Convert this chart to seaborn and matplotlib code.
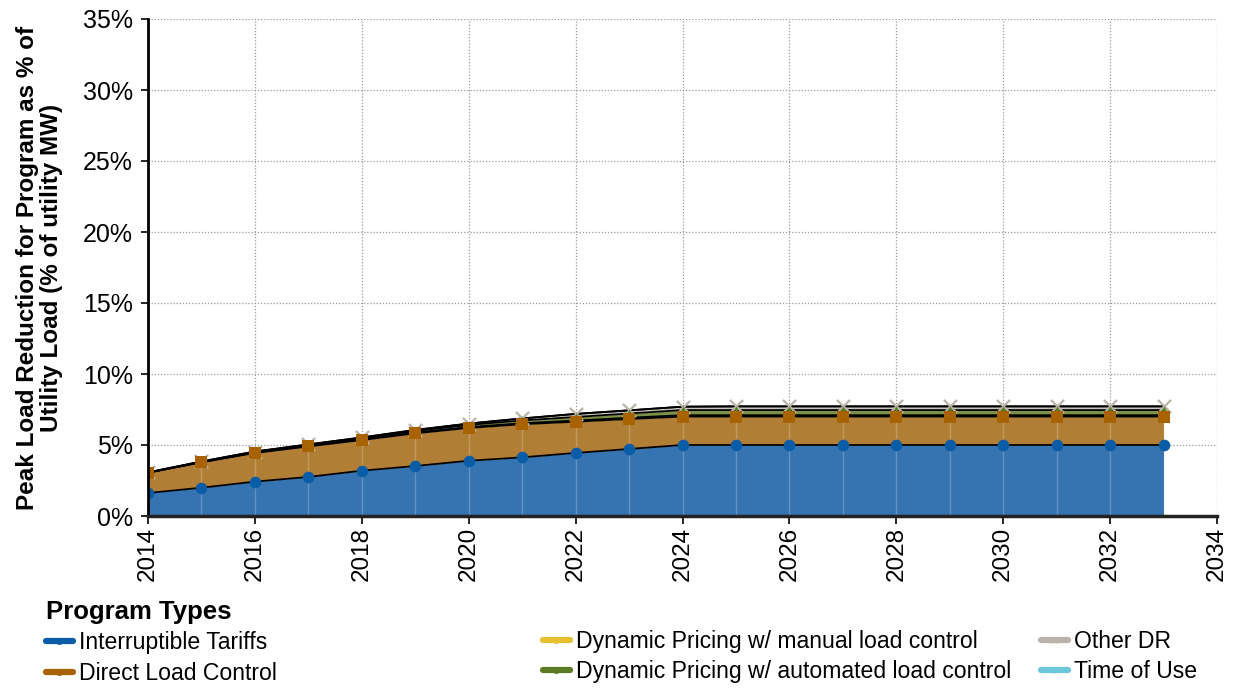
import numpy as np
import pandas as pd
import matplotlib
matplotlib.use("Agg")
import matplotlib.pyplot as plt
from matplotlib.lines import Line2D
from matplotlib.ticker import FuncFormatter, MultipleLocator
import seaborn as sns

# Peak load reduction by program type, % of utility load
years = list(range(2014, 2034))
interruptible = [1.62, 1.99, 2.42, 2.75, 3.19, 3.52, 3.89, 4.13, 4.44, 4.72,
                 5.0, 5.0, 5.0, 5.0, 5.0, 5.0, 5.0, 5.0, 5.0, 5.0]
direct_load = [1.43, 1.79, 2.02, 2.15, 2.16, 2.30, 2.31, 2.33, 2.20, 2.11,
               2.00, 2.00, 2.00, 2.00, 2.00, 2.00, 2.00, 2.00, 2.00, 2.00]
dyn_manual = [0.00, 0.01, 0.02, 0.03, 0.04, 0.05, 0.06, 0.07, 0.08, 0.09,
              0.10, 0.10, 0.10, 0.10, 0.10, 0.10, 0.10, 0.10, 0.10, 0.10]
dyn_auto = [0.00, 0.02, 0.04, 0.06, 0.08, 0.11, 0.15, 0.20, 0.25, 0.30,
            0.36, 0.36, 0.36, 0.36, 0.36, 0.36, 0.36, 0.36, 0.36, 0.36]
other_dr = [0.02, 0.03, 0.04, 0.05, 0.06, 0.08, 0.10, 0.14, 0.22, 0.22,
            0.24, 0.26, 0.26, 0.26, 0.26, 0.26, 0.26, 0.26, 0.26, 0.26]
time_of_use = [0.0] * 20

labels = ["Interruptible Tariffs", "Direct Load Control",
          "Dynamic Pricing w/ manual load control",
          "Dynamic Pricing w/ automated load control",
          "Other DR", "Time of Use"]
series = [interruptible, direct_load, dyn_manual, dyn_auto, other_dr, time_of_use]
marker_colors = ["#0B5CA6", "#A86300", "#E6C02E", "#5C7A23", "#B9B4A9", "#6CC7DC"]
fill_colors = ["#3574B0", "#B17E35", "#E9CC5A", "#7C9145", "#C9C4BA", "#8AD3E3"]
markers = ["o", "s", "^", "^", "x", "+"]
marker_sizes = [70, 80, 30, 35, 90, 60]

sns.set_theme(style="white")
plt.rcParams["font.family"] = ["Liberation Sans", "DejaVu Sans"]
plt.rcParams["text.color"] = "black"
plt.rcParams["axes.labelcolor"] = "black"
plt.rcParams["xtick.color"] = "black"
plt.rcParams["ytick.color"] = "black"

fig = plt.figure(figsize=(12.33, 6.88), dpi=100)
ax = fig.add_axes([148 / 1233, 1 - 516 / 688, (1217 - 148) / 1233, (516 - 19) / 688])

df = pd.DataFrame({"year": years})
for lab, vals in zip(labels, series):
    df[lab] = vals
cum = df[labels].cumsum(axis=1)

# grid behind the areas
ax.set_axisbelow(True)
ax.grid(True, color="#9a9a9a", linestyle=(0, (1, 1.5)), linewidth=0.9)

ax.stackplot(df["year"], *[df[l] for l in labels], colors=fill_colors,
             linewidth=0, zorder=2)

# faint seams at each yearly point inside the stacked area
ax.vlines(df["year"], 0, cum[labels[-1]], colors="white", alpha=0.22,
          linewidth=1.0, zorder=2.5)

long = cum.assign(year=df["year"]).melt(id_vars="year", var_name="program",
                                        value_name="top")
for lab in labels:
    sub = long[long["program"] == lab]
    sns.lineplot(data=sub, x="year", y="top", color="black", linewidth=1.3,
                 ax=ax, zorder=3, legend=False)
# lower series markers drawn last so they sit on top
for i in [4, 3, 2, 1, 0]:
    sub = long[long["program"] == labels[i]]
    if markers[i] in ("x", "+"):
        kw = dict(s=marker_sizes[i], linewidth=1.6)
    else:
        kw = dict(s=marker_sizes[i], linewidth=0)
    sns.scatterplot(data=sub, x="year", y="top", marker=markers[i],
                    color=marker_colors[i], ax=ax, zorder=4 + (5 - i) * 0.1,
                    legend=False, **kw)

ax.set_xlim(2014, 2034)
ax.set_ylim(0, 35)
ax.xaxis.set_major_locator(MultipleLocator(2))
ax.yaxis.set_major_locator(MultipleLocator(5))
ax.yaxis.set_major_formatter(FuncFormatter(lambda v, p: f"{v:.0f}%"))
ax.tick_params(axis="x", labelrotation=90, labelsize=17.5, length=6, width=1.2,
               direction="out", bottom=True, color="black", pad=2)
ax.tick_params(axis="y", labelsize=18, length=5, width=1.2, direction="out",
               left=True, color="black", pad=6)
ax.set_xlabel("")
ax.set_ylabel("Peak Load Reduction for Program as % of\nUtility Load (% of utility MW)",
              fontsize=17.5, fontweight="bold", labelpad=14, linespacing=1.05)

for s in ["top", "right"]:
    ax.spines[s].set_visible(False)
ax.spines["left"].set_color("black")
ax.spines["left"].set_linewidth(2)
ax.spines["bottom"].set_color("#222222")
ax.spines["bottom"].set_linewidth(2.5)
ax.spines["left"].set_zorder(5)
ax.spines["bottom"].set_zorder(5)

# legend: three fixed-width columns
handles = [Line2D([0], [0], color=marker_colors[i], linewidth=4.5,
                  marker="o" if i < 4 else ("x" if i == 4 else "+"),
                  markersize=4, markeredgewidth=1) for i in range(6)]
leg_kw = dict(frameon=False, fontsize=16.6, handlelength=1.15, handletextpad=0.3,
              labelspacing=0.32, borderaxespad=0, borderpad=0)
leg1 = fig.legend(handles[0:2], labels[0:2], loc="upper left",
                  bbox_to_anchor=(46 / 1233, 1 - 600 / 688), title="Program Types",
                  title_fontproperties={"size": 18.5, "weight": "bold"},
                  alignment="left", **leg_kw)
leg2 = fig.legend(handles[2:4], labels[2:4], loc="upper left",
                  bbox_to_anchor=(543 / 1233, 1 - 630 / 688), **leg_kw)
leg3 = fig.legend(handles[4:6], labels[4:6], loc="upper left",
                  bbox_to_anchor=(1041 / 1233, 1 - 630 / 688), **leg_kw)

fig.savefig("out.png", dpi=100)
